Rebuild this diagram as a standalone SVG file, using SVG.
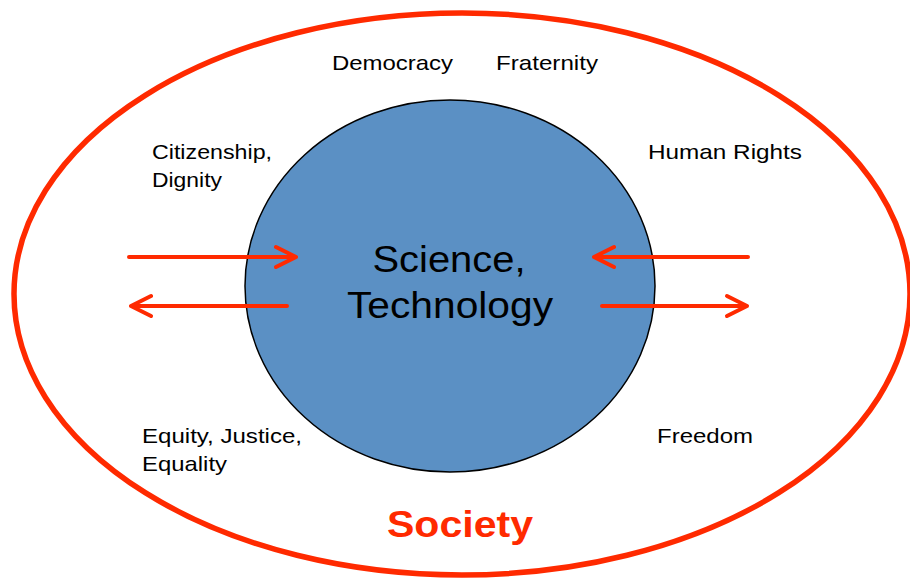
<svg xmlns="http://www.w3.org/2000/svg" width="910" height="581" viewBox="0 0 910 581">
<style>
.lbl{font-family:"Liberation Sans",Arial,sans-serif;font-size:21px;fill:#000}
.big{font-family:"Liberation Sans",Arial,sans-serif;font-size:37px;fill:#000;text-anchor:middle}
.soc{font-family:"Liberation Sans",Arial,sans-serif;font-size:37px;font-weight:bold;fill:#FF2A00;text-anchor:middle}
.arr{stroke:#FF2A00;stroke-width:4;fill:none;stroke-linecap:round;stroke-linejoin:round}
</style>
<rect width="910" height="581" fill="#fff"/>
<g id="society">
<ellipse cx="462" cy="294" rx="448" ry="281" fill="none" stroke="#FF2A00" stroke-width="5.5"/>
<text class="soc" x="460" y="537" textLength="146" lengthAdjust="spacingAndGlyphs">Society</text>
</g>
<g id="core">
<ellipse cx="450" cy="286" rx="205" ry="186" fill="#5B90C4" stroke="#000" stroke-width="1.5"/>
<text class="big" x="449" y="272" textLength="153" lengthAdjust="spacingAndGlyphs">Science,</text>
<text class="big" x="450" y="318" textLength="206" lengthAdjust="spacingAndGlyphs">Technology</text>
</g>
<g id="democracy"><text class="lbl" x="332" y="70" textLength="121" lengthAdjust="spacingAndGlyphs">Democracy</text></g>
<g id="fraternity"><text class="lbl" x="496" y="70" textLength="102" lengthAdjust="spacingAndGlyphs">Fraternity</text></g>
<g id="citizenship"><text class="lbl" x="152" y="159" textLength="120" lengthAdjust="spacingAndGlyphs">Citizenship,</text><text class="lbl" x="152" y="187" textLength="70" lengthAdjust="spacingAndGlyphs">Dignity</text></g>
<g id="human-rights"><text class="lbl" x="648" y="159" textLength="154" lengthAdjust="spacingAndGlyphs">Human Rights</text></g>
<g id="equity"><text class="lbl" x="142" y="443" textLength="160" lengthAdjust="spacingAndGlyphs">Equity, Justice,</text><text class="lbl" x="142" y="471" textLength="85" lengthAdjust="spacingAndGlyphs">Equality</text></g>
<g id="freedom"><text class="lbl" x="657" y="443" textLength="96" lengthAdjust="spacingAndGlyphs">Freedom</text></g>
<g id="connectors">
<path class="arr" d="M129 257H296M276 247L296 257L276 267"/>
<path class="arr" d="M287 306H131M151 296L131 306L151 316"/>
<path class="arr" d="M748 257H594M614 247L594 257L614 267"/>
<path class="arr" d="M602 306H747M727 296L747 306L727 316"/>
</g>
</svg>
